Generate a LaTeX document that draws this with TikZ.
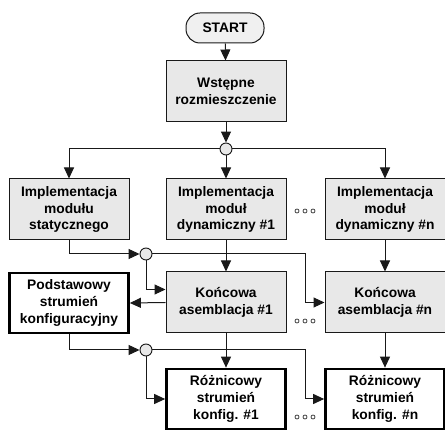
\documentclass[tikz,border=0pt]{standalone}
\usepackage{fontspec}
\setmainfont{Liberation Sans}
\usepackage{tikz}
\usetikzlibrary{arrows.meta,positioning}

\begin{document}
\begin{tikzpicture}[x=1pt,y=-1pt,>={Triangle[length=11pt,width=10pt]}]
  % Colors
  \colorlet{boxfill}{black!9}
  \colorlet{linecolor}{black!90}

  % Styles
  \tikzstyle{every node}=[font=\fontsize{13.8}{16.6}\selectfont\bfseries,align=center]
  \tikzstyle{stage}=[draw=linecolor,line width=1pt,fill=boxfill,minimum width=120pt,minimum height=61pt,inner sep=1pt]
  \tikzstyle{result}=[draw=black,line width=2.7pt,fill=white,minimum width=119pt,minimum height=60pt,inner sep=1pt]
  \tikzstyle{terminal}=[draw=linecolor,line width=1pt,fill=black!6,rounded corners=14pt,minimum width=78pt,minimum height=30pt]
  \tikzstyle{junction}=[circle,draw=linecolor,line width=0.9pt,fill=boxfill,minimum size=12pt,inner sep=0pt]
  \tikzstyle{flow}=[->,draw=linecolor,line width=1pt]

  \useasboundingbox (0,0) rectangle (445,430);

  % The graphic
  \node[terminal] (start) at (225,28) {START};
  \node[stage] (wstep) at (226,91.5) {Wstępne\\rozmieszczenie};
  \node[junction] (j1) at (226,149) {};

  \node[stage] (stat) at (69,209.5) {Implementacja\\modułu\\statycznego};
  \node[stage] (dyn1) at (226,209.5) {Implementacja\\moduł\\dynamiczny \#1};
  \node[stage] (dynn) at (385,209.5) {Implementacja\\moduł\\dynamiczny \#n};
  \node[junction] (j2) at (146,254) {};

  \node[result] (podst) at (69,303) {Podstawowy\\strumień\\konfiguracyjny};
  \node[stage] (kon1) at (226,302.5) {Końcowa\\asemblacja \#1};
  \node[stage] (konn) at (385,302.5) {Końcowa\\asemblacja \#n};
  \node[junction] (j3) at (146,350) {};

  \node[result] (roz1) at (226,399) {Różnicowy\\strumień\\konfig. \#1};
  \node[result] (rozn) at (385,399) {Różnicowy\\strumień\\konfig. \#n};

  \coordinate (bendA) at (305,254);
  \coordinate (bendB) at (305,350);

  % Lines
  \draw[flow] (start) -- (wstep);
  \draw[flow] (wstep) -- (j1);
  \draw[flow] (j1) -| (stat);
  \draw[flow] (j1) -- (dyn1);
  \draw[flow] (j1) -| (dynn);

  \draw[flow] (stat.south) |- (j2);
  \draw[flow] (j2) |- ([yshift=13pt]kon1.west);
  \draw[flow] (j2) -- (bendA) |- (konn.west);
  \draw[flow] (dyn1) -- (kon1);
  \draw[flow] (dynn) -- (konn);
  \draw[flow] (kon1.west) -- (podst.east);

  \draw[flow] (podst.south) |- (j3);
  \draw[flow] (j3) |- (roz1.west);
  \draw[flow] (j3) -- (bendB) |- (rozn.west);
  \draw[flow] (kon1) -- (roz1);
  \draw[flow] (konn) -- (rozn);

  % dots
  \foreach \y in {211,321,417}
    \foreach \x in {297,305,313}
      \draw[black!75,line width=0.8pt] (\x,\y) circle (2pt);
\end{tikzpicture}
\end{document}
